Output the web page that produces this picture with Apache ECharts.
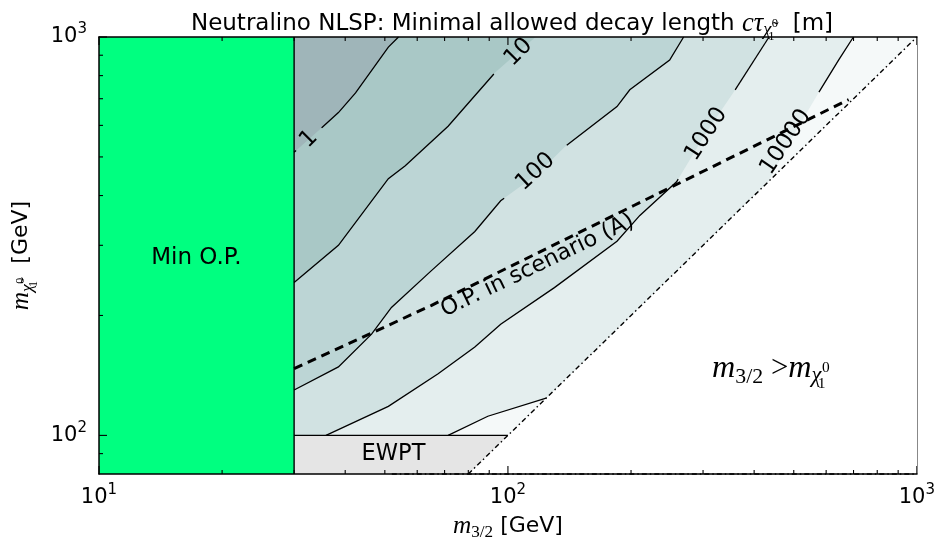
<!DOCTYPE html>
<html>
<head>
<meta charset="utf-8">
<script src="https://cdn.jsdelivr.net/npm/echarts@6/dist/echarts.min.js"></script>
<style>html,body{margin:0;padding:0;background:#fff}#chart{width:938px;height:546px}</style>
</head>
<body>
<div id="chart"></div>
<script>
// ---------------- data (GeV, GeV) ----------------
const xRange = [10, 1000];          // m_3/2
const yRange = [80, 1000];          // m_chi
const xMajorTicks = [10, 100, 1000];
const yMajorTicks = [100, 1000];
const xMinorTicks = [20, 30, 40, 50, 60, 70, 80, 90, 200, 300, 400, 500, 600, 700, 800, 900];
const yMinorTicks = [90, 200, 300, 400, 500, 600, 700, 800, 900];

// contour levels of c*tau [m]
const contourLevels = ['1', '10', '100', '1000', '10000'];
const contour1 = [[30, 514], [35.1, 593], [38.5, 646], [42.4, 724], [51.0, 943], [54.0, 1000]];
const contour10 = [[30, 242], [38.5, 300], [51.0, 441], [56.1, 475], [71.4, 597], [92.9, 813], [107.4, 927], [116.8, 1000]];
const contour100 = [[30, 130], [38.5, 148.6], [46.4, 179.5], [51.9, 209.5], [64.9, 258.8], [83.0, 325], [96.0, 388],
  [118.1, 453], [137.4, 529], [184.8, 669], [198.6, 737], [248.6, 875], [268.9, 1000]];
const contour1000 = [[35.9, 100], [51.0, 118.3], [67.5, 142.8], [83.0, 166.7], [96.0, 190.1], [129.9, 234.9],
  [184.8, 307.3], [210.2, 356.6], [258.5, 433], [305.7, 576.6], [355.6, 724.6], [435, 1000]];
const contour10000 = [[71.4, 100], [89.3, 111.7], [124, 124], [200, 200], [300, 300], [433, 433],
  [497, 563], [575, 725], [643.5, 875], [699.6, 1000]];
const contourLabelAnchors = [[32.6, 554], [106.2, 916], [116.8, 458.6], [305.6, 570], [478.3, 544.5]];

// O.P. in scenario (A)
const opLine = [[30, 147], [64.9, 211.8], [203.2, 377.6], [681, 696.4]];
// kinematic line m_3/2 = m_chi and lower limit
const diagonalLine = [[80, 80], [1000, 1000]];
const bottomLine = [[52, 80], [1000, 80]];
// regions
const minOPRegion = [[10, 80], [30, 80], [30, 1000], [10, 1000]];
const ewptRegion = [[30, 80], [80, 80], [100, 100], [30, 100]];
const allowedRegion = [[30, 100], [100, 100], [1000, 1000], [30, 1000]];
const boundaryLine = [[30, 80], [30, 1000]];
const ewptLine = [[30, 100], [100, 100]];

const annotationTexts = ['Min O.P.', 'EWPT', 'O.P. in scenario (A)'];
const annotationAnchors = [[17.3, 279], [52.5, 89.8], [118.1, 266.5]];
const regionTextAnchor = [439.5, 147];

// ---------------- styling / rendering ----------------
const SANS = "'DejaVu Sans', sans-serif";
const SERIF = "'Liberation Serif', 'DejaVu Serif', serif";
const fillColors = ['#9fb5b9', '#a9c8c6', '#bcd5d5', '#d1e2e2', '#e4eeee', '#f5f9f9'];
const labelRot = [45, 45, 43, 57, 56];
const labelGap = [17, 33, 41, 53, 60];
const TICK_COLOR = '#000';
const MAJOR_LEN = 8, MINOR_LEN = 4;

function mathRich(fs) {
  const c = '#000';
  const base = {color: c, fill: c, fontWeight: 'normal', verticalAlign: 'middle'};
  return {
    n: Object.assign({}, base, {fontFamily: SANS, fontSize: fs, lineHeight: fs * 1.25}),
    it: Object.assign({}, base, {fontFamily: SERIF, fontStyle: 'italic', fontSize: fs * 1.15}),
    op: Object.assign({}, base, {fontFamily: SERIF, fontSize: fs * 1.1}),
    sub: Object.assign({}, base, {fontFamily: SERIF, fontSize: fs * 0.78, padding: [fs * 0.6, 0, 0, 0]}),
    subi: Object.assign({}, base, {fontFamily: SERIF, fontStyle: 'italic', fontSize: fs * 0.8, padding: [fs * 0.55, 0, 0, 0]}),
    ss: Object.assign({}, base, {fontFamily: SERIF, fontSize: fs * 0.55, padding: [fs * 1.1, 0, 0, 0], width: 0.5}),
    sp: Object.assign({}, base, {fontFamily: SERIF, fontSize: fs * 0.55, padding: [0, 0, fs * 0.05, 0]})
  };
}
const CHI = '\u03C7\u0303';

function splitByCircle(pts, c, r) {
  const out = [];
  let cur = [];
  const inside = p => (p[0] - c[0]) ** 2 + (p[1] - c[1]) ** 2 < r * r;
  for (let i = 0; i < pts.length; i++) {
    const b = pts[i];
    if (i === 0) { if (!inside(b)) cur.push(b); continue; }
    const a = pts[i - 1];
    const dx = b[0] - a[0], dy = b[1] - a[1];
    const fx = a[0] - c[0], fy = a[1] - c[1];
    const A = dx * dx + dy * dy, B = 2 * (fx * dx + fy * dy), C = fx * fx + fy * fy - r * r;
    const disc = B * B - 4 * A * C;
    const ts = [];
    if (disc > 0 && A > 0) {
      const s = Math.sqrt(disc);
      const t1 = (-B - s) / (2 * A), t2 = (-B + s) / (2 * A);
      if (t1 > 0 && t1 < 1) ts.push(t1);
      if (t2 > 0 && t2 < 1) ts.push(t2);
    }
    for (const t of ts) {
      const q = [a[0] + t * dx, a[1] + t * dy];
      if (cur.length) { cur.push(q); out.push(cur); cur = []; } else { cur = [q]; }
    }
    if (!inside(b)) cur.push(b);
  }
  if (cur.length > 1) out.push(cur);
  return out.filter(l => l.length > 1);
}

function polygonSeries(pts, color, z) {
  return {
    type: 'custom', z, silent: true, animation: false, clip: true, data: pts,
    renderItem: (params, api) => {
      if (params.dataIndex !== 0) return null;
      return {type: 'polygon', shape: {points: pts.map(p => api.coord(p))}, style: {fill: color, stroke: null}};
    }
  };
}

function lineSeries(pts, style, opts) {
  opts = opts || {};
  return {
    type: 'custom', z: opts.z || 5, silent: true, animation: false, clip: false, data: pts,
    renderItem: (params, api) => {
      if (params.dataIndex !== 0) return null;
      const runs = [[]];
      for (let i = 0; i < pts.length; i++) {
        const p = pts[i];
        if (opts.skipDiagonal && i > 0 && pts[i - 1][0] === pts[i - 1][1] && p[0] === p[1]) { runs.push([p]); continue; }
        runs[runs.length - 1].push(p);
      }
      let px = runs.filter(r => r.length > 1).map(r => r.map(p => api.coord(p)));
      if (opts.gapAt) {
        const c = api.coord(opts.gapAt);
        px = px.flatMap(r => splitByCircle(r, c, opts.gapR));
      }
      return {type: 'group', children: px.map(r => ({
        type: 'polyline', shape: {points: r}, style: Object.assign({fill: null, stroke: '#000', lineWidth: 1.3}, style)
      }))};
    }
  };
}

function textSeries(at, text, rotDeg, fs, rich, z) {
  return {
    type: 'custom', z: z || 8, silent: true, animation: false, clip: false, data: [at],
    renderItem: (params, api) => {
      const p = api.coord(at);
      return {type: 'text', x: p[0], y: p[1], rotation: rotDeg * Math.PI / 180,
        style: {text, fill: '#000', fontSize: fs, fontFamily: SANS, align: 'center', verticalAlign: 'middle', rich: rich}};
    }
  };
}

// ticks drawn inside the frame (matplotlib style), from the tick value arrays, via the axes' scales
function tickSeries() {
  const anchor = [[xRange[0], yRange[0]], [xRange[1], yRange[1]]];
  return {
    type: 'custom', z: 9, silent: true, animation: false, clip: false, data: anchor,
    renderItem: (params, api) => {
      if (params.dataIndex !== 0) return null;
      const segs = [];
      const addX = (v, len) => {
        const b = api.coord([v, yRange[0]]), t = api.coord([v, yRange[1]]);
        segs.push([[b[0], b[1]], [b[0], b[1] - len]]);
        segs.push([[t[0], t[1]], [t[0], t[1] + len]]);
      };
      const addY = (v, len) => {
        const l = api.coord([xRange[0], v]);
        segs.push([[l[0], l[1]], [l[0] + len, l[1]]]);
      };
      xMajorTicks.forEach(v => addX(v, MAJOR_LEN));
      xMinorTicks.forEach(v => addX(v, MINOR_LEN));
      yMajorTicks.forEach(v => addY(v, MAJOR_LEN));
      yMinorTicks.forEach(v => addY(v, MINOR_LEN));
      return {type: 'group', children: segs.map(s => ({
        type: 'polyline', shape: {points: s}, style: {fill: null, stroke: TICK_COLOR, lineWidth: 1.1}
      }))};
    }
  };
}

const tickFmt = v => {
  const l = Math.log10(v), e = Math.round(l);
  return Math.abs(l - e) < 1e-6 ? '{b|10}{s|' + e + '}' : '';
};
const tickRich = {
  b: {fontFamily: SANS, fontSize: 21, color: '#000'},
  s: {fontFamily: SANS, fontSize: 15, color: '#000', padding: [0, 0, 15, 0]}
};

const contours = [contour1, contour10, contour100, contour1000, contour10000];
const series = [];
series.push(polygonSeries(minOPRegion, '#00ff80', 1));
series.push(polygonSeries(ewptRegion, '#e5e5e5', 1));
series.push(polygonSeries(allowedRegion, fillColors[5], 1));
for (let k = contours.length - 1; k >= 0; k--) {
  const c = contours[k];
  const poly = (c[0][0] > xRange[0] * 3.001 ? [[30, 100]] : []).concat(c, [[30, 1000]]);
  series.push(polygonSeries(poly, fillColors[k], 2 + (4 - k) * 0.01));
}
series.push(lineSeries(boundaryLine, {lineWidth: 1.4}, {z: 5}));
series.push(lineSeries(ewptLine, {lineWidth: 1.4}, {z: 5}));
contours.forEach((c, k) => {
  series.push(lineSeries(c, {lineWidth: 1.3}, {z: 5, gapAt: contourLabelAnchors[k], gapR: labelGap[k], skipDiagonal: k === 4}));
  series.push(textSeries(contourLabelAnchors[k], contourLevels[k], labelRot[k], 23, null, 8));
});
series.push(lineSeries(diagonalLine, {lineWidth: 1.4, lineDash: [5, 3, 1.5, 3]}, {z: 6}));
series.push(lineSeries(bottomLine, {lineWidth: 1.4, lineDash: [5, 3, 1.5, 3]}, {z: 6}));
series.push(lineSeries(opLine, {lineWidth: 3, lineDash: [9, 6]}, {z: 7}));
series.push(textSeries(annotationAnchors[0], annotationTexts[0], 0, 23, null, 8));
series.push(textSeries(annotationAnchors[1], annotationTexts[1], 0, 22.5, null, 8));
series.push(textSeries(annotationAnchors[2], annotationTexts[2], 25.6, 22.5, null, 8));
series.push(textSeries(regionTextAnchor,
  '{it|m}{sub|3/2}{op| >}{it|m}{subi|\u03C7}{ss|1}{sp|0}', 0, 28, mathRich(28), 8));
series.push(tickSeries());

const axisCommon = {
  type: 'log', logBase: 10, z: 10,
  splitLine: {show: false}, minorTick: {show: false}, minorSplitLine: {show: false},
  axisTick: {show: false}
};

const option = {
  animation: false,
  backgroundColor: '#fff',
  title: {
    text: '{n|Neutralino NLSP: Minimal allowed decay length }{it|c\u03C4}{subi|' + CHI + '}{ss|1}{sp|0}{n|  [m]}',
    left: 507, top: 0, textAlign: 'center',
    textStyle: {fontWeight: 'normal', rich: mathRich(23)}
  },
  grid: {left: 99, right: 16, top: 37, bottom: 68},
  xAxis: [
    Object.assign({}, axisCommon, {
      min: xRange[0], max: xRange[1], position: 'bottom',
      axisLine: {show: true, lineStyle: {color: '#000', width: 1.5}},
      axisLabel: {formatter: tickFmt, rich: tickRich, margin: 9, showMinLabel: true, showMaxLabel: true},
      name: '{it|m}{sub|3/2}{n| [GeV]}', nameLocation: 'middle', nameGap: 31,
      nameTextStyle: {rich: mathRich(22)}
    }),
    Object.assign({}, axisCommon, {
      min: xRange[0], max: xRange[1], position: 'top',
      axisLine: {show: true, lineStyle: {color: '#000', width: 1.5}},
      axisLabel: {show: false}
    })
  ],
  yAxis: [
    Object.assign({}, axisCommon, {
      min: yRange[0], max: yRange[1], position: 'left',
      axisLine: {show: true, lineStyle: {color: '#000', width: 1.5}},
      axisLabel: {formatter: tickFmt, rich: tickRich, margin: 12, showMinLabel: true, showMaxLabel: true},
      name: '{it|m}{subi|' + CHI + '}{ss|1}{sp|0}{n|  [GeV]}', nameLocation: 'middle', nameGap: 58, nameRotate: 90,
      nameTextStyle: {rich: mathRich(22)}
    }),
    Object.assign({}, axisCommon, {
      min: yRange[0], max: yRange[1], position: 'right',
      axisLine: {show: true, lineStyle: {color: '#888', width: 1}},
      axisLabel: {show: false}
    })
  ],
  series
};

const chart = echarts.init(document.getElementById('chart'));
chart.setOption(option);
</script>
</body>
</html>
